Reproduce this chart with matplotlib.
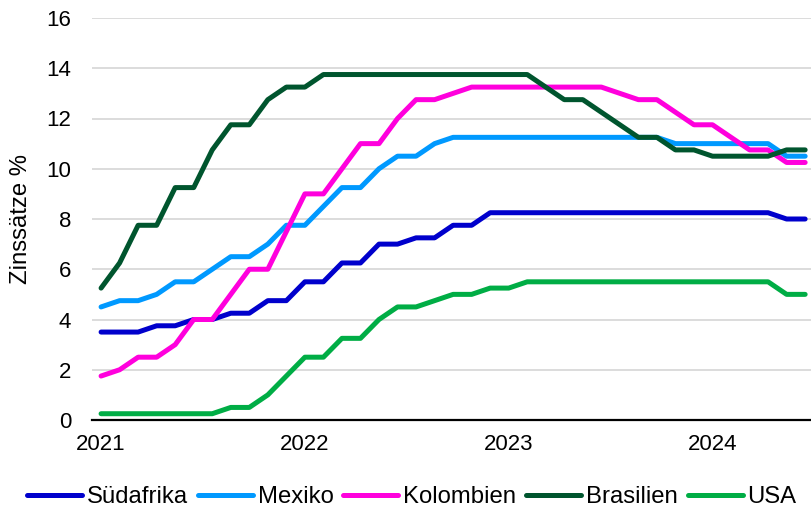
"""
Leitzinsen ausgewählter Länder 2021-2024 (Linienchart).
"""

import matplotlib
matplotlib.use("Agg")          # no display
import matplotlib.pyplot as plt

plt.rcParams["font.family"] = ["Liberation Sans", "DejaVu Sans"]

year_labels = ["2021", "2022", "2023", "2024"]
year_index  = [0, 11, 22, 33]          # observation where each year label sits

suedafrika = [3.5, 3.5, 3.5, 3.75, 3.75, 4.0, 4.0, 4.25, 4.25, 4.75,
              4.75, 5.5, 5.5, 6.25, 6.25, 7.0, 7.0, 7.25, 7.25, 7.75,
              7.75, 8.25, 8.25, 8.25, 8.25, 8.25, 8.25, 8.25, 8.25, 8.25,
              8.25, 8.25, 8.25, 8.25, 8.25, 8.25, 8.25, 8.0, 8.0]
mexiko     = [4.5, 4.75, 4.75, 5.0, 5.5, 5.5, 6.0, 6.5, 6.5, 7.0,
              7.75, 7.75, 8.5, 9.25, 9.25, 10.0, 10.5, 10.5, 11.0, 11.25,
              11.25, 11.25, 11.25, 11.25, 11.25, 11.25, 11.25, 11.25, 11.25, 11.25,
              11.25, 11.0, 11.0, 11.0, 11.0, 11.0, 11.0, 10.5, 10.5]
kolumbien  = [1.75, 2.0, 2.5, 2.5, 3.0, 4.0, 4.0, 5.0, 6.0, 6.0,
              7.5, 9.0, 9.0, 10.0, 11.0, 11.0, 12.0, 12.75, 12.75, 13.0,
              13.25, 13.25, 13.25, 13.25, 13.25, 13.25, 13.25, 13.25, 13.0, 12.75,
              12.75, 12.25, 11.75, 11.75, 11.25, 10.75, 10.75, 10.25, 10.25]
brasilien  = [5.25, 6.25, 7.75, 7.75, 9.25, 9.25, 10.75, 11.75, 11.75, 12.75,
              13.25, 13.25, 13.75, 13.75, 13.75, 13.75, 13.75, 13.75, 13.75, 13.75,
              13.75, 13.75, 13.75, 13.75, 13.25, 12.75, 12.75, 12.25, 11.75, 11.25,
              11.25, 10.75, 10.75, 10.5, 10.5, 10.5, 10.5, 10.75, 10.75]
usa        = [0.25, 0.25, 0.25, 0.25, 0.25, 0.25, 0.25, 0.5, 0.5, 1.0,
              1.75, 2.5, 2.5, 3.25, 3.25, 4.0, 4.5, 4.5, 4.75, 5.0,
              5.0, 5.25, 5.25, 5.5, 5.5, 5.5, 5.5, 5.5, 5.5, 5.5,
              5.5, 5.5, 5.5, 5.5, 5.5, 5.5, 5.5, 5.0, 5.0]

series = [
    ("Südafrika", suedafrika, "#0000CC"),
    ("Mexiko",    mexiko,     "#0099FF"),
    ("Kolombien", kolumbien,  "#FF00DD"),
    ("Brasilien", brasilien,  "#00552E"),
    ("USA",       usa,        "#00AD45"),
]

# --- figure ---------------------------------------------------------------
fig = plt.figure(figsize=(8.12, 5.12), dpi=100, facecolor="white")
ax = fig.add_axes([92 / 812, 92 / 512, 720 / 812, 402 / 512])

for name, values, color in series:
    ax.plot(range(len(values)), values, color=color, lw=3.6, label=name,
            solid_capstyle="round", solid_joinstyle="round")

ax.set_ylim(0, 16)
ax.set_yticks(range(0, 17, 2))
ax.set_xlim(-0.49, 38.37)
ax.set_xticks(year_index)
ax.set_xticklabels(year_labels)

ax.grid(axis="y", color="#D9D9D9", lw=1.3)
ax.set_axisbelow(True)
for side in ("left", "right", "top"):
    ax.spines[side].set_visible(False)
ax.spines["bottom"].set_color("black")
ax.spines["bottom"].set_linewidth(1.6)
ax.spines["bottom"].set_zorder(1.5)

ax.tick_params(axis="y", length=0, pad=15, labelsize=16, labelcolor="black")
ax.tick_params(axis="x", length=0, pad=10, labelsize=16, labelcolor="black")

ax.set_ylabel("Zinssätze %", fontsize=17.2)
ax.yaxis.set_label_coords(-0.083, 0.5)

fig.legend(loc="lower center", bbox_to_anchor=(0.507, -0.035), ncol=5,
           frameon=False, fontsize=17.2, handlelength=2.3, handletextpad=0.2,
           columnspacing=0.42)

fig.savefig("out.png", dpi=100, facecolor="white")
plt.close(fig)
